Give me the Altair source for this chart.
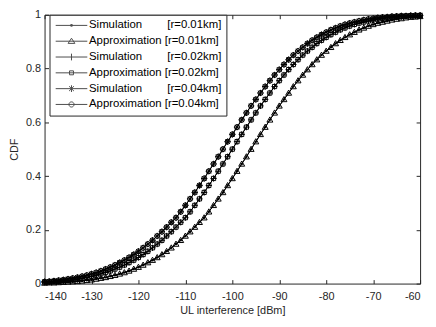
import altair as alt
import pandas as pd

# ---------------- data ----------------
x_dbm = list(range(-140, -59))  # -140 ... -60 dBm, 1 dB steps

sim_r001 = [.002, .003, .003, .004, .005, .006, .007, .008, .010, .012,
            .014, .017, .020, .023, .027, .031, .036, .041, .047, .054,
            .061, .069, .078, .087, .097, .108, .120, .133, .147, .161,
            .177, .193, .210, .228, .245, .267, .291, .315, .339, .365,
            .391, .418, .445, .472, .500, .528, .555, .582, .609, .635,
            .661, .685, .709, .733, .755, .776, .796, .815, .833, .850,
            .865, .879, .893, .905, .916, .926, .935, .944, .951, .958,
            .964, .969, .973, .977, .981, .984, .986, .989, .991, .992,
            .994]
approx_r001 = [.002, .003, .003, .004, .005, .006, .007, .008, .010, .012,
               .014, .017, .020, .023, .027, .031, .036, .041, .047, .054,
               .061, .069, .078, .087, .097, .108, .120, .133, .147, .161,
               .177, .193, .210, .228, .245, .267, .291, .315, .339, .365,
               .391, .418, .445, .472, .500, .528, .555, .582, .609, .635,
               .661, .685, .709, .733, .755, .776, .796, .815, .833, .850,
               .865, .879, .893, .905, .916, .926, .935, .944, .951, .958,
               .964, .969, .973, .977, .981, .984, .986, .989, .991, .992,
               .994]
sim_r002 = [.005, .006, .007, .008, .010, .012, .014, .017, .020, .023,
            .027, .031, .036, .041, .047, .054, .061, .069, .078, .087,
            .097, .108, .120, .133, .147, .161, .177, .193, .210, .228,
            .245, .267, .291, .315, .339, .365, .391, .418, .445, .472,
            .500, .528, .555, .582, .609, .635, .661, .685, .709, .733,
            .755, .776, .796, .815, .833, .850, .865, .879, .893, .905,
            .916, .926, .935, .944, .951, .958, .964, .969, .973, .977,
            .981, .984, .986, .989, .991, .992, .994, .995, .996, .996,
            .997]
approx_r002 = [.005, .006, .007, .008, .010, .012, .014, .017, .020, .023,
               .027, .031, .036, .041, .047, .054, .061, .069, .078, .087,
               .097, .108, .120, .133, .147, .161, .177, .193, .210, .228,
               .245, .267, .291, .315, .339, .365, .391, .418, .445, .472,
               .500, .528, .555, .582, .609, .635, .661, .685, .709, .733,
               .755, .776, .796, .815, .833, .850, .865, .879, .893, .905,
               .916, .926, .935, .944, .951, .958, .964, .969, .973, .977,
               .981, .984, .986, .989, .991, .992, .994, .995, .996, .996,
               .997]
sim_r004 = [.007, .008, .010, .012, .014, .017, .020, .023, .027, .031,
            .036, .041, .047, .054, .061, .069, .078, .087, .097, .108,
            .120, .133, .147, .161, .177, .193, .210, .228, .245, .267,
            .291, .315, .339, .365, .391, .418, .445, .472, .500, .528,
            .555, .582, .609, .635, .661, .685, .709, .733, .755, .776,
            .796, .815, .833, .850, .865, .879, .893, .905, .916, .926,
            .935, .944, .951, .958, .964, .969, .973, .977, .981, .984,
            .986, .989, .991, .992, .994, .995, .996, .996, .997, .998,
            .998]
approx_r004 = [.007, .008, .010, .012, .014, .017, .020, .023, .027, .031,
               .036, .041, .047, .054, .061, .069, .078, .087, .097, .108,
               .120, .133, .147, .161, .177, .193, .210, .228, .245, .267,
               .291, .315, .339, .365, .391, .418, .445, .472, .500, .528,
               .555, .582, .609, .635, .661, .685, .709, .733, .755, .776,
               .796, .815, .833, .850, .865, .879, .893, .905, .916, .926,
               .935, .944, .951, .958, .964, .969, .973, .977, .981, .984,
               .986, .989, .991, .992, .994, .995, .996, .996, .997, .998,
               .998]

NB = "\u00a0"
series_names = [
    "Simulation" + NB * 8 + "[r=0.01km]",
    "Approximation" + NB + "[r=0.01km]",
    "Simulation" + NB * 8 + "[r=0.02km]",
    "Approximation" + NB + "[r=0.02km]",
    "Simulation" + NB * 8 + "[r=0.04km]",
    "Approximation" + NB + "[r=0.04km]",
]
series_values = [sim_r001, approx_r001, sim_r002, approx_r002, sim_r004, approx_r004]

x_ticks = [-140, -130, -120, -110, -100, -90, -80, -70, -60]
y_ticks = [0, 0.2, 0.4, 0.6, 0.8, 1]

rows = []
for name, vals in zip(series_names, series_values):
    for xv, cv in zip(x_dbm, vals):
        rows.append({"x": xv, "cdf": cv, "series": name})
df = pd.DataFrame(rows)

# ---------------- styling ----------------
FONT = "Liberation Sans"
TXT = "#262626"
W, H = 380, 272

xs = alt.Scale(domain=[-140, -60], nice=False, zero=False)
ys = alt.Scale(domain=[0, 1], nice=False, zero=False)

# marker shapes in the plot (custom paths scale by sqrt(size)/2)
plot_markers = [
    dict(shape="circle", filled=True, size=6),
    dict(shape="M0,-1L1,0.75L-1,0.75Z", filled=False, size=36),
    dict(shape="M-1,0L1,0M0,-1L0,1", filled=False, size=40),
    dict(shape="square", filled=False, size=18),
    dict(shape="M-1,0L1,0M0,-1L0,1M-0.7,-0.7L0.7,0.7M-0.7,0.7L0.7,-0.7", filled=False, size=40),
    dict(shape="circle", filled=False, size=26),
]

# legend symbols: line segment with marker in the middle (scale 4 px / unit at size 64)
legend_paths = [
    "M-4,0L4,0M-0.2,-0.2L0.2,-0.2L0.2,0.2L-0.2,0.2Z",
    "M-4,0L4,0M0,-0.75L0.85,0.55L-0.85,0.55Z",
    "M-4,0L4,0M0,-0.85L0,0.85",
    "M-4,0L4,0M-0.5,-0.5L0.5,-0.5L0.5,0.5L-0.5,0.5Z",
    "M-4,0L4,0M0,-0.85L0,0.85M-0.6,-0.6L0.6,0.6M-0.6,0.6L0.6,-0.6",
    "M-4,0L4,0M0.65,0A0.65,0.65,0,1,1,-0.65,0A0.65,0.65,0,1,1,0.65,0",
]

main_x_axis = alt.Axis(orient="bottom", values=x_ticks, labelExpr="'' + datum.value",
                       ticks=False, domain=False, grid=False, labelPadding=7,
                       title="UL interference [dBm]", titlePadding=3,
                       labelFont=FONT, titleFont=FONT, labelFontSize=11, titleFontSize=11,
                       titleFontWeight="normal", labelColor=TXT, titleColor=TXT)
main_y_axis = alt.Axis(orient="left", values=y_ticks, labelExpr="'' + datum.value",
                       ticks=False, domain=False, grid=False, labelPadding=4,
                       title="CDF", titlePadding=6,
                       labelFont=FONT, titleFont=FONT, labelFontSize=11, titleFontSize=11,
                       titleFontWeight="normal", labelColor=TXT, titleColor=TXT)


def tick_axis(orient, values, offset):
    return alt.Axis(orient=orient, values=values, offset=offset, labels=False,
                    domain=False, grid=False, ticks=True, tickSize=4,
                    tickColor=TXT, tickWidth=1, title=None)


layers = []

# lines
lines = alt.Chart(df).mark_line(color="black", strokeWidth=1).encode(
    x=alt.X("x:Q", scale=xs, axis=main_x_axis),
    y=alt.Y("cdf:Q", scale=ys, axis=main_y_axis),
    detail="series:N",
)
layers.append(lines)

# markers, one layer per series (in plotting order)
for name, mk in zip(series_names, plot_markers):
    pts = alt.Chart(df).transform_filter(
        alt.datum.series == name
    ).mark_point(
        shape=mk["shape"], filled=mk["filled"], size=mk["size"],
        color="black", strokeWidth=1, opacity=1,
    ).encode(
        x=alt.X("x:Q", scale=xs, axis=None),
        y=alt.Y("cdf:Q", scale=ys, axis=None),
    )
    layers.append(pts)

# legend layer (no data drawn) + inward ticks at bottom / left
legend_layer = alt.Chart(df).transform_filter("false").mark_point(
    filled=False, size=64, color="black", strokeWidth=1
).encode(
    x=alt.X("x:Q", scale=xs, axis=tick_axis("top", x_ticks, -H)),
    y=alt.Y("cdf:Q", scale=ys, axis=tick_axis("right", y_ticks, -W)),
    shape=alt.Shape(
        "series:N",
        scale=alt.Scale(domain=series_names, range=legend_paths),
        legend=alt.Legend(
            title=None, orient="none", legendX=5, legendY=0,
            fillColor="white", strokeColor=TXT, padding=5, rowPadding=3,
            symbolSize=64, symbolOffset=11.5, labelOffset=12,
            symbolStrokeColor="black", symbolStrokeWidth=1,
            symbolFillColor="transparent",
            labelFont=FONT, labelFontSize=11.5, labelColor="black", labelLimit=400,
        ),
    ),
)
layers.append(legend_layer)

# inward ticks at top / right
tick_layer = alt.Chart(df).transform_filter("false").mark_point(opacity=0).encode(
    x=alt.X("x:Q", scale=xs, axis=tick_axis("bottom", x_ticks, -H)),
    y=alt.Y("cdf:Q", scale=ys, axis=tick_axis("left", y_ticks, -W)),
)
layers.append(tick_layer)

chart = alt.layer(*layers).resolve_axis(
    x="independent", y="independent"
).properties(
    width=W, height=H,
    padding={"left": 37, "top": 5, "right": 8, "bottom": 34},
    autosize=alt.AutoSizeParams(type="none"),
).configure_view(
    stroke=TXT, strokeWidth=1
)

chart.save("out.html", embed_options={"renderer": "svg", "actions": False})
